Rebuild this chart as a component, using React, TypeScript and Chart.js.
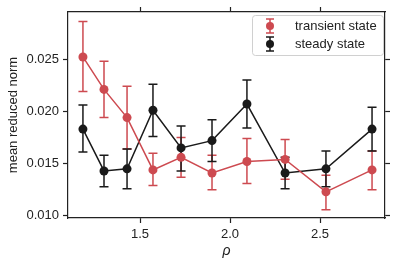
import React, { useEffect, useRef } from "react";
import { Chart, registerables } from "chart.js";

Chart.register(...registerables);

const rho = [1.183, 1.3, 1.428, 1.572, 1.728, 1.9, 2.094, 2.306, 2.533, 2.789];
const transientMean = [0.0252, 0.0221, 0.0194, 0.0144, 0.0156, 0.0141, 0.0152, 0.0154, 0.0123, 0.0144];
const transientLow = [0.0219, 0.0194, 0.0164, 0.0129, 0.0137, 0.0125, 0.0131, 0.0135, 0.0106, 0.0125];
const transientHigh = [0.0286, 0.0248, 0.0224, 0.016, 0.0175, 0.0158, 0.0174, 0.0173, 0.0139, 0.0162];
const steadyMean = [0.0183, 0.0143, 0.0145, 0.0201, 0.0165, 0.0172, 0.0207, 0.0141, 0.0145, 0.0183];
const steadyLow = [0.0161, 0.0128, 0.0126, 0.0176, 0.0143, 0.0152, 0.0184, 0.0126, 0.0128, 0.0162];
const steadyHigh = [0.0206, 0.0158, 0.0164, 0.0226, 0.0186, 0.0192, 0.023, 0.0156, 0.0162, 0.0204];
const xTicks = [1.5, 2.0, 2.5];
const yTicks = [0.01, 0.015, 0.02, 0.025];
const seriesNames = ["transient state", "steady state"];
const RED = "#cd4a50";
const BLACK = "#1a1a1a";
const FONT = "'Liberation Sans', Arial, sans-serif";

const errorBarPlugin = {
  id: "errorBars",
  beforeDatasetsDraw(chart: any) {
    const ctx = chart.ctx;
    const xs = chart.scales.x;
    const ys = chart.scales.y;
    chart.data.datasets.forEach((ds: any) => {
      const lo: number[] = ds.errLow;
      const hi: number[] = ds.errHigh;
      ctx.save();
      ctx.strokeStyle = ds.borderColor;
      ctx.lineWidth = 1.5;
      ds.data.forEach((p: any, i: number) => {
        const x = xs.getPixelForValue(p.x);
        const y1 = ys.getPixelForValue(lo[i]);
        const y2 = ys.getPixelForValue(hi[i]);
        ctx.beginPath();
        ctx.moveTo(x, y1);
        ctx.lineTo(x, y2);
        ctx.moveTo(x - 4.5, y1);
        ctx.lineTo(x + 4.5, y1);
        ctx.moveTo(x - 4.5, y2);
        ctx.lineTo(x + 4.5, y2);
        ctx.stroke();
      });
      ctx.restore();
    });
  },
};

const legendPlugin = {
  id: "customLegend",
  afterDraw(chart: any) {
    const ctx = chart.ctx;
    const area = chart.chartArea;
    const bx = area.right - 133;
    const by = area.top + 3;
    const bw = 131;
    const bh = 40;
    ctx.save();
    ctx.fillStyle = "rgba(255,255,255,0.85)";
    ctx.strokeStyle = "#d0d0d0";
    ctx.lineWidth = 1;
    ctx.beginPath();
    (ctx as any).roundRect(bx + 0.5, by + 0.5, bw, bh, 3);
    ctx.fill();
    ctx.stroke();
    chart.data.datasets.forEach((ds: any, i: number) => {
      const cy = by + 11 + i * 18;
      const cx = bx + 18;
      ctx.strokeStyle = ds.borderColor;
      ctx.fillStyle = ds.borderColor;
      ctx.lineWidth = 1.5;
      ctx.beginPath();
      ctx.moveTo(cx, cy - 7);
      ctx.lineTo(cx, cy + 7);
      ctx.moveTo(cx - 4, cy - 7);
      ctx.lineTo(cx + 4, cy - 7);
      ctx.moveTo(cx - 4, cy + 7);
      ctx.lineTo(cx + 4, cy + 7);
      ctx.stroke();
      ctx.beginPath();
      ctx.arc(cx, cy, 4, 0, Math.PI * 2);
      ctx.fill();
      ctx.fillStyle = "#222";
      ctx.font = `13px ${FONT}`;
      ctx.textBaseline = "middle";
      ctx.textAlign = "left";
      ctx.fillText(seriesNames[i], bx + 43, cy);
    });
    ctx.restore();
  },
};

export default function App() {
  const ref = useRef<HTMLCanvasElement | null>(null);
  useEffect(() => {
    document.body.style.margin = "0";
    const mk = (means: number[]) => means.map((v, i) => ({ x: rho[i], y: v }));
    const tickGrid = {
      drawOnChartArea: false,
      drawTicks: true,
      tickLength: 5,
      tickWidth: 1.2,
      tickColor: "#222",
    };
    const border = { display: true, color: "#222", width: 1.2 };
    const chart = new Chart(ref.current as HTMLCanvasElement, {
      type: "scatter",
      data: {
        datasets: [
          {
            label: seriesNames[0],
            data: mk(transientMean),
            borderColor: RED,
            backgroundColor: RED,
            showLine: true,
            borderWidth: 1.5,
            pointRadius: 4.5,
            pointBorderWidth: 0,
            errLow: transientLow,
            errHigh: transientHigh,
          } as any,
          {
            label: seriesNames[1],
            data: mk(steadyMean),
            borderColor: BLACK,
            backgroundColor: BLACK,
            showLine: true,
            borderWidth: 1.5,
            pointRadius: 4.5,
            pointBorderWidth: 0,
            errLow: steadyLow,
            errHigh: steadyHigh,
          } as any,
        ],
      },
      options: {
        animation: false,
        responsive: false,
        layout: { padding: { left: 6, right: 0, top: 0, bottom: 0 } },
        plugins: { legend: { display: false }, tooltip: { enabled: false } },
        scales: {
          x: {
            type: "linear",
            position: "bottom",
            min: 1.1,
            max: 2.861,
            afterBuildTicks: (s: any) => {
              s.ticks = xTicks.map((v) => ({ value: v }));
            },
            afterFit: (s: any) => {
              s.height = 47;
            },
            ticks: {
              color: "#222",
              font: { family: FONT, size: 13 },
              padding: 4,
              callback: (v: any) => Number(v).toFixed(1),
              maxRotation: 0,
            },
            grid: tickGrid,
            border,
            title: {
              display: true,
              text: "ρ",
              color: "#222",
              font: { family: FONT, size: 14, style: "italic" },
              padding: { top: 0, bottom: 5 },
            },
          },
          x2: {
            type: "linear",
            position: "top",
            min: 1.1,
            max: 2.861,
            afterBuildTicks: (s: any) => {
              s.ticks = xTicks.map((v) => ({ value: v }));
            },
            afterFit: (s: any) => {
              s.height = 12;
            },
            ticks: { display: false },
            grid: tickGrid,
            border,
          },
          y: {
            type: "linear",
            position: "left",
            min: 0.0098,
            max: 0.0295,
            afterBuildTicks: (s: any) => {
              s.ticks = yTicks.map((v) => ({ value: v }));
            },
            afterFit: (s: any) => {
              s.width = 62;
            },
            ticks: {
              color: "#222",
              font: { family: FONT, size: 13 },
              padding: 4,
              callback: (v: any) => Number(v).toFixed(3),
            },
            grid: tickGrid,
            border,
            title: {
              display: true,
              text: "mean reduced norm",
              color: "#222",
              font: { family: FONT, size: 13 },
              padding: { top: 0, bottom: 2 },
            },
          },
          y2: {
            type: "linear",
            position: "right",
            min: 0.0098,
            max: 0.0295,
            afterBuildTicks: (s: any) => {
              s.ticks = yTicks.map((v) => ({ value: v }));
            },
            afterFit: (s: any) => {
              s.width = 14;
            },
            ticks: { display: false },
            grid: tickGrid,
            border,
          },
        },
      } as any,
      plugins: [errorBarPlugin, legendPlugin],
    });
    return () => chart.destroy();
  }, []);
  return (
    <div style={{ width: 399, height: 265 }}>
      <canvas ref={ref} width={399} height={265} style={{ display: "block" }} />
    </div>
  );
}
